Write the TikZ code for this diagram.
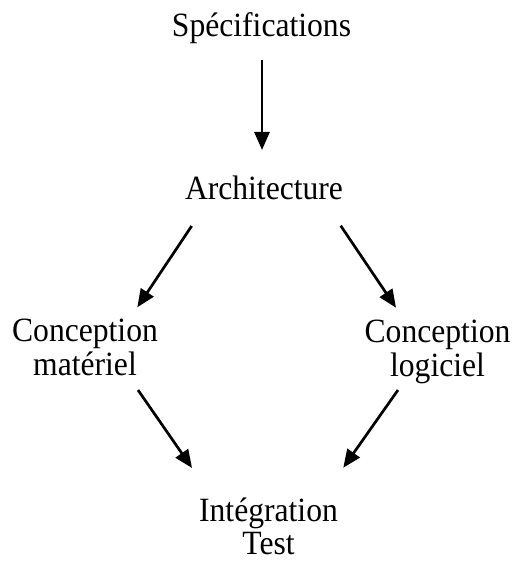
\documentclass[tikz,border=0pt]{standalone}
\usepackage{fontspec}
\setmainfont{Liberation Serif}
\newfontfamily\diagfont[FakeStretch=0.93]{Liberation Serif}
\usetikzlibrary{arrows.meta}
\begin{document}
\begin{tikzpicture}[x=1pt,y=-1pt,
  label text/.style={inner sep=0pt,align=center,font=\diagfont\fontsize{34}{34}\selectfont},
  tight lines/.style={font=\diagfont\fontsize{34}{31}\selectfont},
  flow/.style={line width=2.7pt,-{Triangle[length=18pt,width=15pt]}}]
\useasboundingbox (0,0) rectangle (515,561);
% every line carries a strut so that node centres sit at fixed offsets from baselines
\node[label text] (spec) at (261.5,29.2) {\strut Spécifications};
\node[label text] (arch) at (264,193.2) {\strut Architecture};
\node[label text] (mat) at (85,351.2) {\strut Conception\\\strut matériel};
\node[label text] (log) at (437.5,352.2) {\strut Conception\\\strut logiciel};
\node[label text,tight lines] (integ) at (268.5,531) {\strut Intégration\\\strut Test};
\draw[flow] ([shift={(0.5,30.8)}]spec.center) -- ([shift={(-2,-43.2)}]arch.center);
\draw[flow] ([shift={(-72.3,32.8)}]arch.center) -- ([shift={(52.3,-43.9)}]mat.center);
\draw[flow] ([shift={(76.7,32.5)}]arch.center) -- ([shift={(-41.5,-44.5)}]log.center);
\draw[flow] ([shift={(53,38.8)}]mat.center) -- ([shift={(-76.5,-63)}]integ.center);
\draw[flow] ([shift={(-39.5,37.8)}]log.center) -- ([shift={(74.8,-63.3)}]integ.center);
\end{tikzpicture}
\end{document}
